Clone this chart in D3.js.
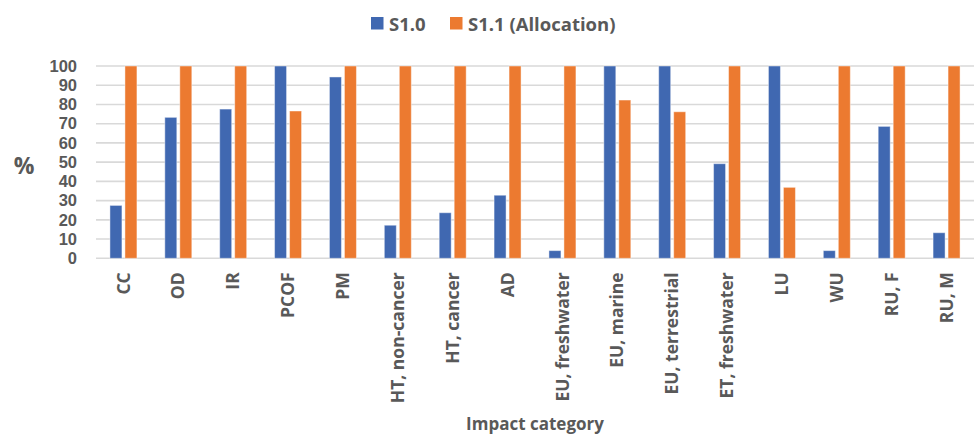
<!DOCTYPE html>
<html>
<head>
<meta charset="utf-8">
<script src="https://cdn.jsdelivr.net/npm/d3@7"></script>
<style>
  html, body { margin: 0; padding: 0; background: #fff; }
  svg { display: block; }
  text { font-family: "Open Sans", "Noto Sans", sans-serif; font-weight: 700; fill: #595959; }
</style>
</head>
<body>
<svg id="chart" width="975" height="434"></svg>
<script>
// Impact categories along the x axis
const categories = [
  "CC", "OD", "IR", "PCOF", "PM", "HT, non-cancer", "HT, cancer", "AD",
  "EU, freshwater", "EU, marine", "EU, terrestrial", "ET, freshwater",
  "LU", "WU", "RU, F", "RU, M"
];

// Series names
const seriesNames = ["S1.0", "S1.1 (Allocation)"];

// Relative impact (%) per category
const s10 = [27.5, 73.3, 77.6, 100, 94.3, 17.2, 23.7, 32.8, 4.0, 100, 100, 49.2, 100, 4.0, 68.6, 13.3];
const s11 = [100, 100, 100, 76.6, 100, 100, 100, 100, 100, 82.3, 76.2, 100, 36.9, 100, 100, 100];

// Y axis ticks
const yTicks = [0, 10, 20, 30, 40, 50, 60, 70, 80, 90, 100];

const colors = ["#4068B1", "#EC7A30"];

const svg = d3.select("#chart");
const plotLeft = 96, plotRight = 974, plotTop = 66, plotBottom = 258.3;

const x0 = d3.scaleBand().domain(categories).range([plotLeft, plotRight])
  .paddingInner(0.508).paddingOuter(0.254);
const x1 = d3.scaleBand().domain(seriesNames).range([0, x0.bandwidth()])
  .paddingInner(0.2);
const y = d3.scaleLinear().domain([0, 100]).range([plotBottom, plotTop]);

// Horizontal gridlines
svg.append("g")
  .selectAll("line")
  .data(yTicks)
  .join("line")
  .attr("x1", plotLeft).attr("x2", plotRight)
  .attr("y1", d => y(d)).attr("y2", d => y(d))
  .attr("stroke", "#d9d9d9")
  .attr("stroke-width", 1.6);

// Y axis labels (compact font so the stacked labels keep clear of each other)
const yAxis = svg.append("g")
  .attr("transform", `translate(${plotLeft - 10},0)`)
  .call(d3.axisLeft(y).tickValues(yTicks).tickSize(0).tickPadding(8));
yAxis.select(".domain").remove();
yAxis.selectAll("text")
  .attr("x", -9)
  .style("font-size", "16.5px")
  .style("font-family", "\"Liberation Sans\", Arial, sans-serif")
  .style("font-weight", "700")
  .attr("fill", "#595959");

// Y axis title
svg.append("text")
  .attr("x", 24).attr("y", 165)
  .attr("text-anchor", "middle")
  .attr("dominant-baseline", "central")
  .style("font-size", "23px")
  .text("%");

// Bars
const rows = categories.map((c, i) => ({ cat: c, vals: [s10[i], s11[i]] }));
const groups = svg.append("g")
  .selectAll("g")
  .data(rows)
  .join("g")
  .attr("transform", d => `translate(${x0(d.cat)},0)`);

groups.selectAll("rect")
  .data(d => d.vals.map((v, k) => ({ key: seriesNames[k], v, k })))
  .join("rect")
  .attr("x", d => x1(d.key))
  .attr("width", x1.bandwidth())
  .attr("y", d => y(d.v))
  .attr("height", d => y(0) - y(d.v))
  .attr("fill", d => colors[d.k])
  .attr("stroke", "#ffffff")
  .attr("stroke-opacity", 0.45)
  .attr("stroke-width", 1);

// X axis labels (rotated)
const xAxis = svg.append("g")
  .attr("transform", `translate(0,${plotBottom})`)
  .call(d3.axisBottom(x0).tickSize(0).tickPadding(0));
xAxis.select(".domain").remove();
xAxis.selectAll("text")
  .attr("transform", "rotate(-90)")
  .attr("x", -14)
  .attr("y", 0)
  .attr("dy", "0.35em")
  .attr("text-anchor", "end")
  .style("font-size", "17.5px")
  .style("font-family", "\"Open Sans\", sans-serif")
  .attr("fill", "#595959");

// X axis title
svg.append("text")
  .attr("x", (plotLeft + plotRight) / 2).attr("y", 430)
  .attr("text-anchor", "middle")
  .style("font-size", "17px")
  .text("Impact category");

// Legend
const legend = svg.append("g");
const legendItems = [
  { name: seriesNames[0], x: 371, color: colors[0] },
  { name: seriesNames[1], x: 450, color: colors[1] }
];
legendItems.forEach(item => {
  legend.append("rect")
    .attr("x", item.x).attr("y", 17)
    .attr("width", 12.5).attr("height", 12.5)
    .attr("fill", item.color);
  legend.append("text")
    .attr("x", item.x + 18).attr("y", 23.5)
    .attr("dominant-baseline", "central")
    .style("font-size", "18.5px")
    .text(item.name);
});
</script>
</body>
</html>
